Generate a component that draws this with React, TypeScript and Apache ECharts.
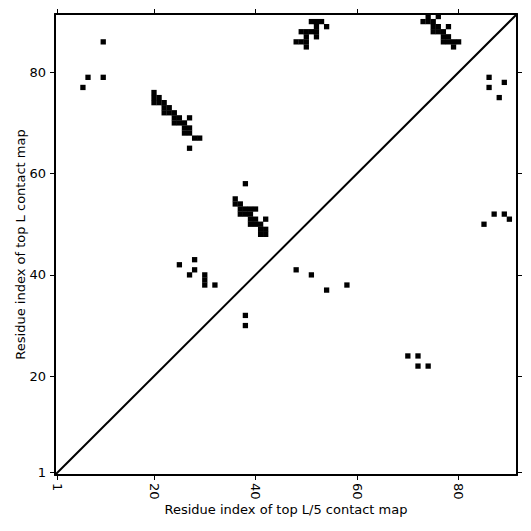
import React, { useEffect, useRef } from "react";
import * as echarts from "echarts";

const tickValues = [1, 20, 40, 60, 80];
const axisMin = 0.5;
const axisMax = 91.5;

// Upper-left triangle: top L contacts [i, j]
const topLSparse = [[10, 86], [7, 79], [10, 79], [6, 77]];
const topLHelix1 = [
  [20, 76], [20, 75], [21, 75], [20, 74], [21, 74], [22, 74],
  [22, 73], [23, 73], [22, 72], [23, 72], [24, 72],
  [24, 71], [25, 71], [27, 71], [24, 70], [25, 70], [26, 70],
  [26, 69], [27, 69], [26, 68], [27, 68], [28, 67], [29, 67], [27, 65],
];
const topLHelix2 = [
  [38, 58], [36, 55], [36, 54], [37, 54],
  [37, 53], [38, 53], [39, 53], [40, 53], [37, 52], [38, 52], [39, 52],
  [39, 51], [40, 51], [42, 51], [39, 50], [40, 50], [41, 50],
  [41, 49], [42, 49], [41, 48], [42, 48],
];
const topLSmall = [[25, 42], [28, 43], [28, 41], [27, 40], [30, 40], [30, 39], [30, 38], [32, 38]];
const topLCluster50 = [
  [51, 90], [52, 90], [53, 90], [52, 89], [54, 89],
  [49, 88], [50, 88], [51, 88], [52, 88], [50, 87], [52, 87],
  [48, 86], [49, 86], [50, 86], [50, 85],
];
const topLCluster75 = [
  [74, 91], [76, 91], [73, 90], [74, 90], [75, 90],
  [75, 89], [76, 89], [78, 89], [75, 88], [76, 88], [77, 88],
  [77, 87], [78, 87], [77, 86], [78, 86], [79, 86], [80, 86], [79, 85],
];

// Lower-right triangle: top L/5 contacts [j, i]
const topL5 = [
  [38, 32], [38, 30], [48, 41], [51, 40], [54, 37], [58, 38],
  [70, 24], [72, 24], [72, 22], [74, 22],
  [85, 50], [87, 52], [89, 52], [90, 51],
  [86, 77], [86, 79], [88, 75], [89, 78],
];

const diagonal = [[axisMin, axisMin], [axisMax, axisMax]];

const xName = "Residue index of top L/5 contact map";
const yName = "Residue index of top L contact map";

const FONT = "DejaVu Sans";

export default function App() {
  const ref = useRef<HTMLDivElement>(null);
  useEffect(() => {
    if (!ref.current) return;
    const chart = echarts.init(ref.current, null, { renderer: "svg" });
    const topL = [
      ...topLSparse,
      ...topLHelix1,
      ...topLHelix2,
      ...topLSmall,
      ...topLCluster50,
      ...topLCluster75,
    ];
    const line = { lineStyle: { color: "#000", width: 2 } };
    const tick = {
      show: true,
      customValues: tickValues,
      length: 5,
      inside: false,
      lineStyle: { color: "#000", width: 1 },
    };
    const baseAxis = {
      type: "value",
      min: axisMin,
      max: axisMax,
      splitLine: { show: false },
      axisLine: { show: true, onZero: false, ...line },
      axisTick: tick,
    };
    chart.setOption({
      animation: false,
      backgroundColor: "#fff",
      grid: { left: 55, right: 14, top: 14, bottom: 56, containLabel: false },
      xAxis: [
        {
          ...baseAxis,
          position: "bottom",
          axisLabel: {
            customValues: tickValues,
            rotate: -90,
            color: "#000",
            fontSize: 13,
            fontFamily: FONT,
            margin: 8,
          },
          name: xName,
          nameLocation: "middle",
          nameGap: 28,
          nameMoveOverlap: false,
          nameTextStyle: { color: "#000", fontSize: 13, fontFamily: FONT, verticalAlign: "top" },
        },
        {
          ...baseAxis,
          position: "top",
          axisLabel: { show: false },
        },
      ],
      yAxis: [
        {
          ...baseAxis,
          position: "left",
          axisLabel: {
            customValues: tickValues,
            color: "#000",
            fontSize: 13,
            fontFamily: FONT,
            margin: 9,
          },
          name: yName,
          nameLocation: "middle",
          nameGap: 28,
          nameMoveOverlap: false,
          nameTextStyle: { color: "#000", fontSize: 13, fontFamily: FONT },
        },
        {
          ...baseAxis,
          position: "right",
          axisLabel: { show: false },
        },
      ],
      series: [
        {
          type: "line",
          data: diagonal,
          showSymbol: false,
          symbol: "none",
          lineStyle: { color: "#000", width: 2 },
          z: 1,
        },
        {
          type: "scatter",
          data: topL,
          symbol: "rect",
          symbolSize: 5.3,
          itemStyle: { color: "#000", opacity: 1 },
          z: 2,
        },
        {
          type: "scatter",
          data: topL5,
          symbol: "rect",
          symbolSize: 5.3,
          itemStyle: { color: "#000", opacity: 1 },
          z: 2,
        },
      ],
    });
    return () => chart.dispose();
  }, []);
  return (
    <div
      ref={ref}
      style={{ position: "absolute", left: 0, top: 0, width: 531, height: 531 }}
    />
  );
}
